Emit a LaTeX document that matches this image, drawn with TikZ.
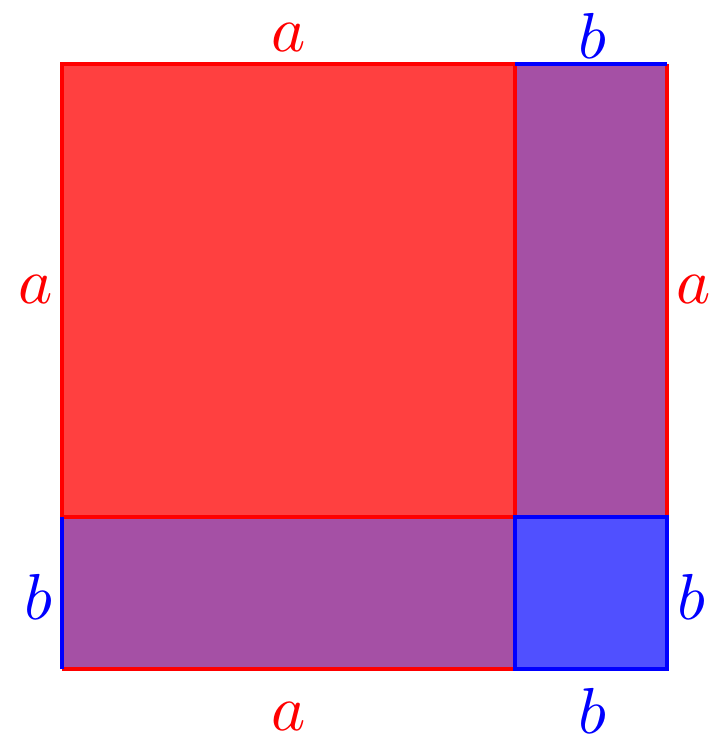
\documentclass[tikz,border=0pt]{standalone}
\definecolor{fillred}{RGB}{255,64,64}
\definecolor{fillpurple}{RGB}{165,80,165}
\definecolor{fillblue}{RGB}{80,80,255}
\begin{document}
\begin{tikzpicture}[x=0.02cm,y=-0.02cm,
  edge/.style={line width=0.075cm},
  lbl/.style={scale=3.7,inner sep=0pt}]
\useasboundingbox (0,0) rectangle (720,742);
\fill[fillred] (62,64) rectangle (515,517);
\fill[fillpurple] (515,64) rectangle (667,517);
\fill[fillpurple] (62,517) rectangle (515,669);
\fill[fillblue] (515,517) rectangle (667,669);
\draw[edge,red] (62,64) rectangle (515,517);
\draw[edge,red] (667,64) -- (667,517);
\draw[edge,red] (62,669) -- (515,669);
\draw[edge,blue] (515,64) -- (667,64);
\draw[edge,blue] (62,517) -- (62,669);
\draw[edge,blue] (515,517) rectangle (667,669);
\node[lbl,red] (ta) at (289,38) {$a$};
\node[lbl,blue] (tb) at (592,36) {$b$};
\node[lbl,red] (la) at (36,290) {$a$};
\node[lbl,red] (ra) at (694,290) {$a$};
\node[lbl,blue] (lb) at (38,597) {$b$};
\node[lbl,blue] (rb) at (691,597) {$b$};
\node[lbl,red] (ba) at (289,716) {$a$};
\node[lbl,blue] (bb) at (592,711) {$b$};
\end{tikzpicture}
\end{document}
